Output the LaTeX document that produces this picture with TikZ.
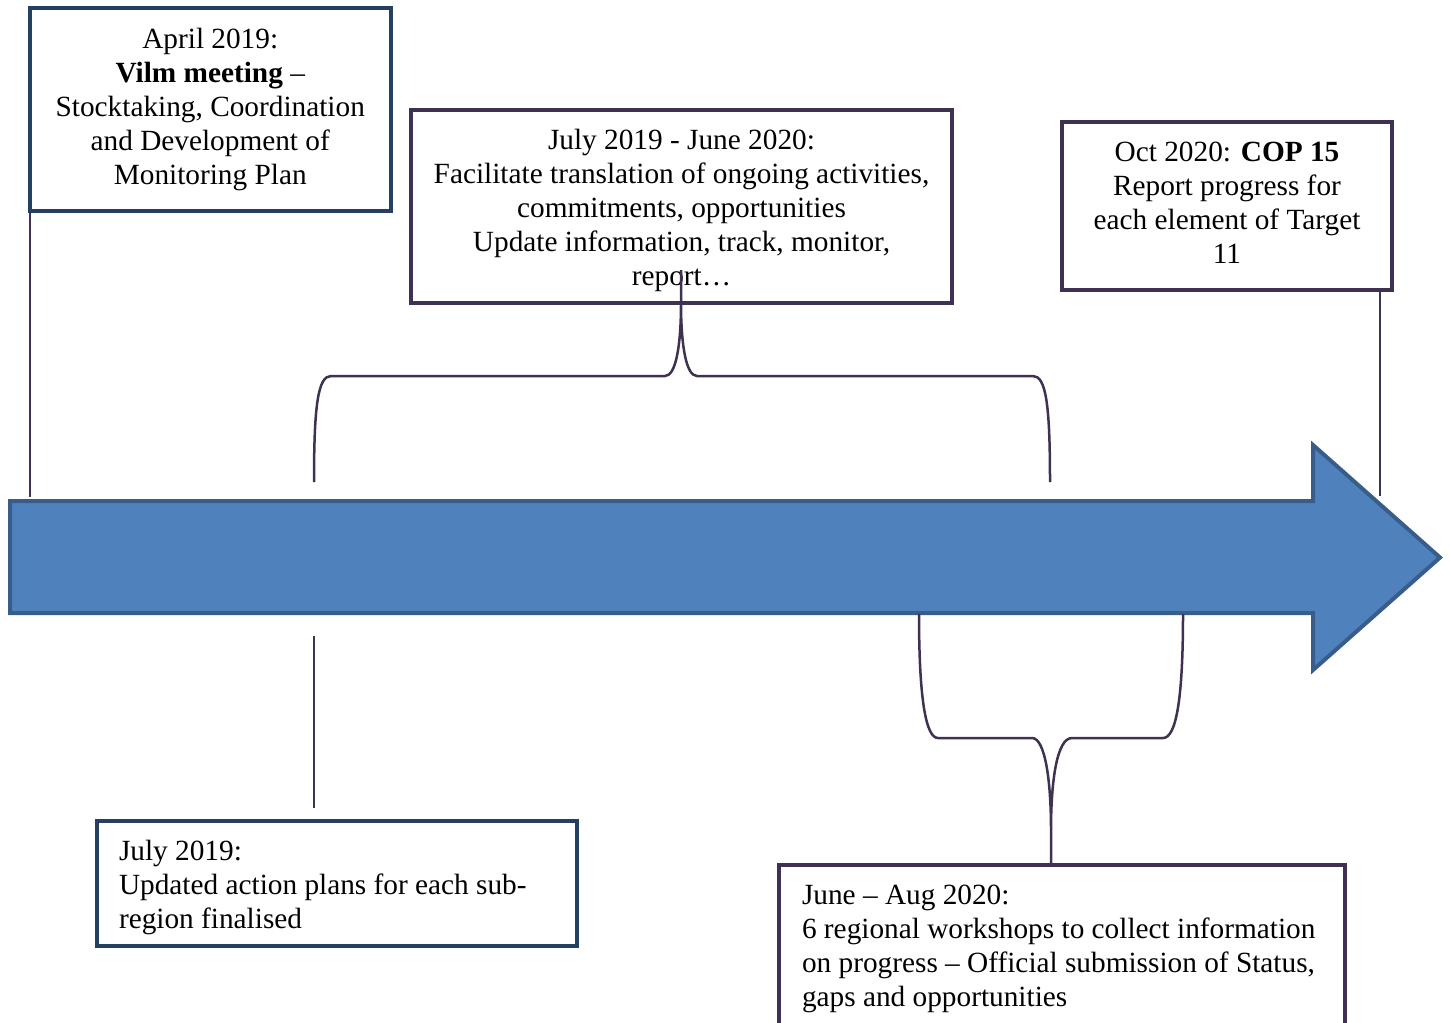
\documentclass[tikz,border=0pt]{standalone}
\usepackage{fontspec}
\setmainfont{Liberation Serif}
\definecolor{navyline}{HTML}{243F60}
\definecolor{plumline}{HTML}{3F3151}
\definecolor{arrowfill}{HTML}{4F81BD}
\definecolor{arrowedge}{HTML}{385D8A}
\begin{document}
\begin{tikzpicture}[x=1pt,y=-1pt,
  box/.style={rectangle, line width=4pt, fill=white, inner sep=0pt, text=black,
    font=\fontsize{29.3}{34}\selectfont},
  navybox/.style={box, draw=navyline},
  plumbox/.style={box, draw=plumline},
  link/.style={draw=plumline, line width=2.5pt},
  timeline/.style={fill=arrowfill, draw=arrowedge, line width=4pt, line join=miter}
]
\useasboundingbox (0,0) rectangle (1450,1022);
\clip (0,0) rectangle (1450,1022);

% timeline arrow
\path[timeline] (10,501) -- (1313,501) -- (1313,445) -- (1440,557.5)
  -- (1313,670) -- (1313,613) -- (10,613) -- cycle;

% boxes
\node[navybox, minimum width=360.5, minimum height=202.5, align=center] (apr) at (210.25,109.75)
  {April 2019:\\\textbf{Vilm meeting} –\\Stocktaking, Coordination\\and Development of\\Monitoring Plan};
\node[plumbox, minimum width=541, minimum height=193, align=center] (jj) at (681.5,206.5)
  {\rule{0pt}{28pt}July 2019 - June 2020:\\Facilitate translation of ongoing activities,\\commitments, opportunities\\Update information, track, monitor,\\report…};
\node[plumbox, minimum width=330, minimum height=168, align=center] (cop) at (1227,206)
  {Oct 2020: \textbf{COP 15}\\Report progress for\\each element of Target\\11\rule[-6pt]{0pt}{6pt}};
\node[navybox, minimum height=125, inner xsep=22pt, text width=436pt, align=flush left] (jul) at (337,883.5)
  {\rule{0pt}{28pt}July 2019:\\Updated action plans for each sub-\\region finalised};
\node[plumbox, minimum height=162, inner xsep=23pt, text width=520pt, align=flush left] (ws) at (1062,946)
  {\rule{0pt}{26pt}June – Aug 2020:\\6 regional workshops to collect information\\on progress – Official submission of Status,\\gaps and opportunities};

% simple connectors
\coordinate (aprend) at (30,497);
\draw[link] (apr.south west -| aprend) -- (aprend);
\coordinate (jultop) at (314,636);
\coordinate (julbot) at (314,808);
\draw[link] (jultop) -- (julbot);
\coordinate (copend) at (1380,496);
\draw[link] (cop.south -| copend) -- (copend);

% upper brace
\coordinate (ubl) at (314,482);
\coordinate (ubr) at (1050,482);
\coordinate (ubtip) at (681,270);
\draw[link] (ubl) .. controls (314,405) and (318,376) .. (331,376) -- (665,376)
  .. controls (676,376) and (681,345) .. (681,303) -- (ubtip) -- (681,303)
  .. controls (681,345) and (686,376) .. (697,376) -- (1033,376)
  .. controls (1046,376) and (1050,405) .. (ubr);

% lower brace
\coordinate (lbl) at (919,614);
\coordinate (lbr) at (1183,614);
\coordinate (lbtip) at (ws.north -| 1051,0);
\draw[link] (lbl) .. controls (919,700) and (926,738) .. (938,738) -- (1032,738)
  .. controls (1045,738) and (1051,780) .. (1051,830) -- (lbtip) -- (1051,830)
  .. controls (1051,780) and (1057,738) .. (1072,738) -- (1163,738)
  .. controls (1176,738) and (1183,700) .. (lbr);
\end{tikzpicture}
\end{document}
